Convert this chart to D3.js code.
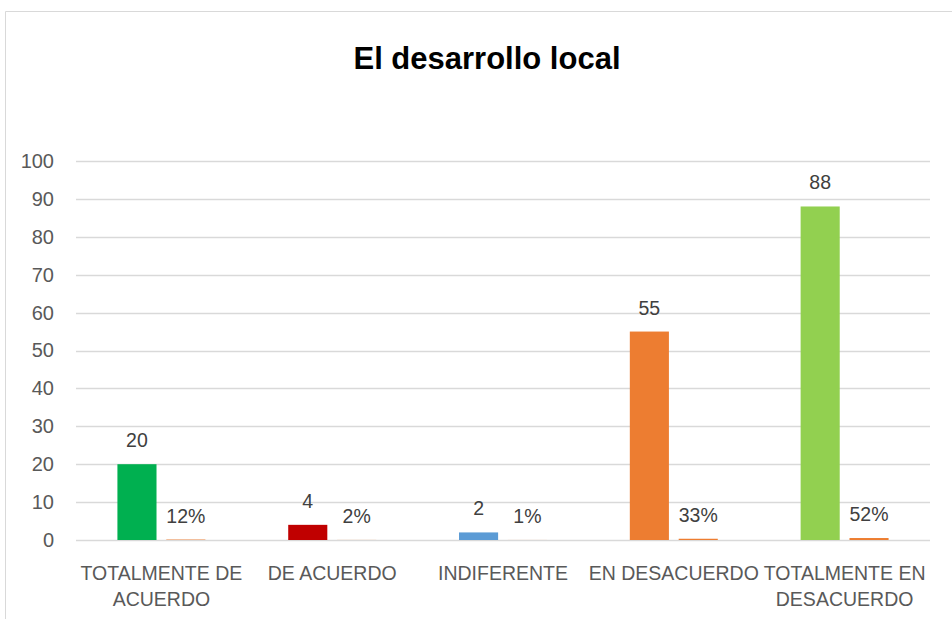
<!DOCTYPE html>
<html>
<head>
<meta charset="utf-8">
<script src="https://cdn.jsdelivr.net/npm/d3@7"></script>
<style>
  body { margin: 0; background: #fff; }
  svg { display: block; }
  text { font-family: "Liberation Sans", Arial, sans-serif; }
</style>
</head>
<body>
<div id="chart"></div>
<script>
// data
var categories = ['TOTALMENTE DE ACUERDO', 'DE ACUERDO', 'INDIFERENTE', 'EN DESACUERDO', 'TOTALMENTE EN DESACUERDO'];
var categoryLines = [['TOTALMENTE DE', 'ACUERDO'], ['DE ACUERDO'], ['INDIFERENTE'], ['EN DESACUERDO'], ['TOTALMENTE EN', 'DESACUERDO']];
var counts = [20, 4, 2, 55, 88];
var shares = [0.12, 0.02, 0.01, 0.33, 0.52];
var countColors = ['#00B050', '#C00000', '#5B9BD5', '#ED7D31', '#92D050'];
var shareColor = '#ED7D31';
var yTicks = [0, 10, 20, 30, 40, 50, 60, 70, 80, 90, 100];

var W = 952, H = 619;
var margin = { top: 161, right: 22, bottom: 79, left: 76 };

var svg = d3.select('#chart').append('svg').attr('width', W).attr('height', H);

// chart frame
svg.append('path')
  .attr('d', 'M5.5,' + H + 'V11.5H' + W)
  .attr('fill', 'none').attr('stroke', '#d9d9d9').attr('stroke-width', 1);

svg.append('text')
  .attr('x', 487).attr('y', 69)
  .attr('text-anchor', 'middle')
  .style('font-size', '31px').style('font-weight', 'bold').style('fill', '#000')
  .text('El desarrollo local');

var y = d3.scaleLinear().domain([0, 100]).range([H - margin.bottom, margin.top]);
var x0 = d3.scaleBand().domain(categories).range([margin.left, W - margin.right])
  .paddingInner(0.485).paddingOuter(0.2425);
var x1 = d3.scaleBand().domain(['n', 'pct']).range([0, x0.bandwidth()]).paddingInner(0.2);

// gridlines
svg.append('g').selectAll('line').data(yTicks).enter().append('line')
  .attr('x1', margin.left).attr('x2', W - margin.right)
  .attr('y1', function (d) { return Math.round(y(d)) + 0.5; })
  .attr('y2', function (d) { return Math.round(y(d)) + 0.5; })
  .attr('stroke', '#d9d9d9').attr('stroke-width', 1.3);

// y axis
var yAxis = svg.append('g').attr('transform', 'translate(' + (margin.left - 22) + ',0)')
  .call(d3.axisLeft(y).tickValues(yTicks).tickSize(0).tickPadding(0));
yAxis.select('.domain').remove();
yAxis.selectAll('text').style('font-size', '20px').style('fill', '#595959')
  .attr('font-family', null);

var groups = svg.append('g').selectAll('g').data(categories).enter().append('g')
  .attr('transform', function (d) { return 'translate(' + x0(d) + ',0)'; });

groups.append('rect')
  .attr('x', x1('n')).attr('width', x1.bandwidth())
  .attr('y', function (d, i) { return y(counts[i]); })
  .attr('height', function (d, i) { return y(0) - y(counts[i]); })
  .attr('fill', function (d, i) { return countColors[i]; });

groups.append('rect')
  .attr('x', x1('pct')).attr('width', x1.bandwidth())
  .attr('y', function (d, i) { return y(shares[i]); })
  .attr('height', function (d, i) { return y(0) - y(shares[i]); })
  .attr('fill', shareColor);

groups.append('text')
  .attr('x', x1('n') + x1.bandwidth() / 2)
  .attr('y', function (d, i) { return y(counts[i]) - 17; })
  .attr('text-anchor', 'middle')
  .style('font-size', '19.5px').style('fill', '#404040')
  .text(function (d, i) { return counts[i]; });

groups.append('text')
  .attr('x', x1('pct') + x1.bandwidth() / 2)
  .attr('y', function (d, i) { return y(shares[i]) - 17; })
  .attr('text-anchor', 'middle')
  .style('font-size', '19.5px').style('fill', '#404040')
  .text(function (d, i) { return Math.round(shares[i] * 100) + '%'; });

// category labels
var labels = svg.append('g').selectAll('text').data(categories).enter().append('text')
  .attr('x', function (d) { return x0(d) + x0.bandwidth() / 2; })
  .attr('y', 580)
  .attr('text-anchor', 'middle')
  .style('font-size', '19.5px').style('fill', '#595959');
labels.each(function (d, i) {
  var t = d3.select(this);
  categoryLines[i].forEach(function (line, j) {
    t.append('tspan')
      .attr('x', x0(d) + x0.bandwidth() / 2)
      .attr('dy', j === 0 ? 0 : 26)
      .text(line);
  });
});
</script>
</body>
</html>
